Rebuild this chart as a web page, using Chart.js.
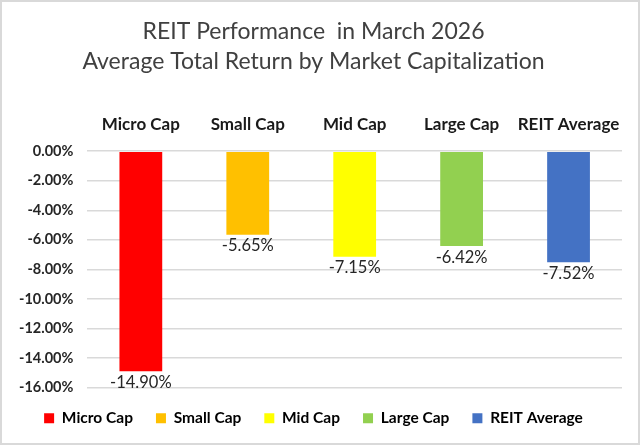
<!DOCTYPE html>
<html>
<head>
<meta charset="utf-8">
<script src="https://cdn.jsdelivr.net/npm/chart.js@4.4.1/dist/chart.umd.min.js"></script>
<style>
  html, body { margin: 0; padding: 0; background: #fff; }
  #wrap { width: 640px; height: 445px; box-sizing: border-box; border: 2px solid #d9d9d9; }
</style>
</head>
<body>
<div id="wrap"><canvas id="myChart" width="636" height="441"></canvas></div>
<script>
// chart data
const categories = ['Micro Cap', 'Small Cap', 'Mid Cap', 'Large Cap', 'REIT Average'];
const returns = [-14.90, -5.65, -7.15, -6.42, -7.52];
const barColors = ['#FF0000', '#FFC000', '#FFFF00', '#92D050', '#4472C4'];
const titleLines = ['REIT Performance  in March 2026', 'Average Total Return by Market Capitalization'];

const fontFamily = 'Lato, "Open Sans", sans-serif';

// draws the value under each bar
const valueLabels = {
    id: 'valueLabels',
    afterDatasetsDraw(chart) {
        const ctx = chart.ctx;
        const meta = chart.getDatasetMeta(0);
        ctx.save();
        ctx.font = '16.5px ' + fontFamily;
        ctx.fillStyle = '#262626';
        ctx.textAlign = 'center';
        ctx.textBaseline = 'top';
        meta.data.forEach((bar, i) => {
            ctx.fillText(returns[i].toFixed(2) + '%', bar.x, bar.y + 3);
        });
        ctx.restore();
    }
};

let ctx = document.getElementById('myChart').getContext('2d');
new Chart(ctx, {
    type: 'bar',
    data: {
        labels: categories,
        datasets: [{
            data: returns,
            backgroundColor: barColors,
            borderWidth: 0,
            barPercentage: 0.4,
            categoryPercentage: 1.0
        }]
    },
    options: {
        responsive: false,
        animation: false,
        layout: { padding: { left: 3, right: 16, top: 6, bottom: 7 } },
        plugins: {
            title: {
                display: true,
                text: titleLines,
                color: '#404040',
                font: { family: fontFamily, size: 23, weight: 'normal', lineHeight: 1.3 },
                padding: { top: 9, bottom: 30 }
            },
            legend: {
                position: 'bottom',
                labels: {
                    boxWidth: 10,
                    boxHeight: 10,
                    padding: 23,
                    color: '#262626',
                    font: { family: fontFamily, size: 15.5, weight: 'bold' },
                    generateLabels(chart) {
                        return categories.map((c, i) => ({
                            text: c,
                            fillStyle: barColors[i],
                            strokeStyle: barColors[i],
                            lineWidth: 0,
                            index: i
                        }));
                    }
                }
            },
            tooltip: { enabled: false }
        },
        scales: {
            x: {
                position: 'top',
                grid: { display: false },
                border: { display: false },
                ticks: {
                    color: '#1a1a1a',
                    padding: 8,
                    maxRotation: 0,
                    minRotation: 0,
                    autoSkip: false,
                    font: { family: fontFamily, size: 17, weight: 'bold' }
                }
            },
            y: {
                min: -16,
                max: 0,
                grid: { color: '#d9d9d9', lineWidth: 1.5, drawTicks: false },
                border: { display: false },
                ticks: {
                    stepSize: 2,
                    padding: 14,
                    color: '#262626',
                    font: { family: fontFamily, size: 14.5, weight: 'bold' },
                    callback: (value) => value.toFixed(2) + '%'
                }
            }
        }
    },
    plugins: [valueLabels]
});
</script>
</body>
</html>
